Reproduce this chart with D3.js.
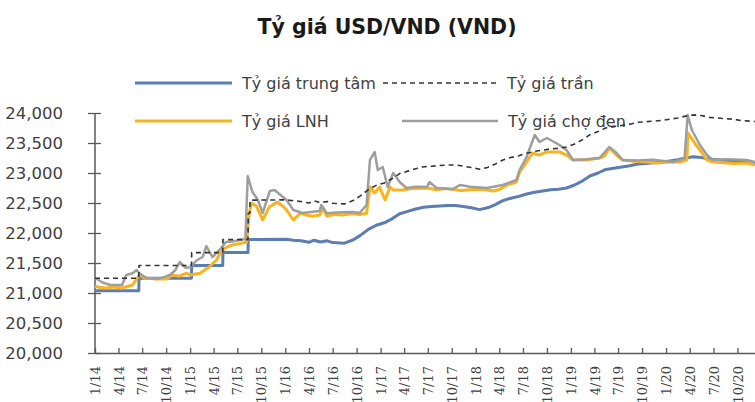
<!DOCTYPE html>
<html>
<head>
<meta charset="utf-8">
<script src="https://cdn.jsdelivr.net/npm/d3@7"></script>
<style>
    html, body { margin: 0; padding: 0; background: #fff; }
    svg { display: block; }
</style>
</head>
<body>
<svg id="chart" width="755" height="402"></svg>
<script>
// Central rate (steps until 8/2015, daily fixing from 2016)
var centralDates = ["2014-01-01", "2014-06-18", "2014-06-19", "2015-01-06", "2015-01-07", "2015-05-06", "2015-05-07", "2015-08-11", "2015-08-12",
    "2016-01-04", "2016-02-01", "2016-03-01", "2016-04-01", "2016-04-20", "2016-05-15", "2016-06-10", "2016-07-01", "2016-08-15", "2016-09-15", "2016-10-15", "2016-11-15", "2016-12-15",
    "2017-01-15", "2017-02-15", "2017-03-15", "2017-04-15", "2017-05-15", "2017-06-15", "2017-07-15", "2017-08-15", "2017-09-15", "2017-10-15", "2017-11-15", "2017-12-15",
    "2018-01-15", "2018-02-15", "2018-03-15", "2018-04-15", "2018-05-15", "2018-06-15", "2018-07-15", "2018-08-15", "2018-09-15", "2018-10-15", "2018-11-15", "2018-12-15",
    "2019-01-15", "2019-02-15", "2019-03-15", "2019-04-15", "2019-05-15", "2019-06-15", "2019-07-15", "2019-08-15", "2019-09-15", "2019-10-15", "2019-11-15", "2019-12-15",
    "2020-01-15", "2020-02-15", "2020-03-15", "2020-04-15", "2020-05-15", "2020-06-15", "2020-07-15", "2020-08-15", "2020-09-15", "2020-10-15", "2020-11-15", "2020-12-15"];
var centralValues = [21036, 21036, 21246, 21246, 21458, 21458, 21673, 21673, 21890,
    21896, 21880, 21870, 21845, 21880, 21850, 21870, 21840, 21830, 21880, 21960, 22060, 22130,
    22170, 22240, 22320, 22360, 22400, 22430, 22440, 22450, 22460, 22460, 22440, 22420,
    22390, 22420, 22470, 22540, 22580, 22610, 22650, 22680, 22700, 22720, 22730, 22750,
    22800, 22870, 22950, 23000, 23060, 23080, 23100, 23120, 23150, 23160, 23170, 23180,
    23200, 23220, 23250, 23270, 23260, 23230, 23220, 23210, 23200, 23180, 23170, 23160];

// Ceiling rate
var ceilingDates = ["2014-01-01", "2014-06-18", "2014-06-19", "2015-01-06", "2015-01-07", "2015-05-06", "2015-05-07", "2015-08-11", "2015-08-12", "2015-08-18", "2015-08-19",
    "2016-01-04", "2016-02-01", "2016-03-01", "2016-04-01", "2016-04-20", "2016-05-15", "2016-06-10", "2016-07-01", "2016-08-15", "2016-09-15", "2016-10-15", "2016-11-15", "2016-12-15",
    "2017-01-15", "2017-02-15", "2017-03-15", "2017-04-15", "2017-05-15", "2017-06-15", "2017-07-15", "2017-08-15", "2017-09-15", "2017-10-15", "2017-11-15", "2017-12-15",
    "2018-01-15", "2018-02-15", "2018-03-15", "2018-04-15", "2018-05-15", "2018-06-15", "2018-07-15", "2018-08-15", "2018-09-15", "2018-10-15", "2018-11-15", "2018-12-15",
    "2019-01-15", "2019-02-15", "2019-03-15", "2019-04-15", "2019-05-15", "2019-06-15", "2019-07-15", "2019-08-15", "2019-09-15", "2019-10-15", "2019-11-15", "2019-12-15",
    "2020-01-15", "2020-02-15", "2020-03-15", "2020-04-15", "2020-05-15", "2020-06-15", "2020-07-15", "2020-08-15", "2020-09-15", "2020-10-15", "2020-11-15", "2020-12-15"];
var ceilingValues = [21246, 21246, 21458, 21458, 21673, 21673, 21890, 21890, 22328, 22328, 22547,
    22553, 22536, 22526, 22500, 22536, 22506, 22526, 22495, 22485, 22536, 22619, 22722, 22794,
    22835, 22907, 22990, 23031, 23072, 23103, 23113, 23124, 23134, 23134, 23113, 23093,
    23062, 23093, 23144, 23216, 23257, 23288, 23330, 23360, 23381, 23402, 23412, 23433,
    23484, 23556, 23639, 23690, 23752, 23772, 23793, 23814, 23845, 23855, 23865, 23875,
    23896, 23917, 23948, 23968, 23958, 23927, 23917, 23906, 23896, 23875, 23865, 23855];

// Interbank rate (LNH)
var interbankDates = ["2014-01-01", "2014-01-20", "2014-02-15", "2014-03-10", "2014-04-15", "2014-05-25", "2014-06-20", "2014-07-10", "2014-08-25", "2014-10-03", "2014-10-25", "2014-11-20", "2014-12-18",
    "2015-01-01", "2015-02-08", "2015-03-15", "2015-04-12", "2015-05-01", "2015-05-20", "2015-06-12", "2015-07-20", "2015-08-06", "2015-08-15", "2015-08-24", "2015-09-12", "2015-10-06", "2015-11-01", "2015-12-01", "2015-12-22",
    "2016-01-06", "2016-02-01", "2016-02-27", "2016-03-22", "2016-04-15", "2016-05-12", "2016-05-25", "2016-06-08", "2016-07-10", "2016-08-08", "2016-09-10", "2016-10-12", "2016-11-08", "2016-11-21", "2016-12-09", "2016-12-28",
    "2017-01-18", "2017-02-06", "2017-02-18", "2017-03-25", "2017-05-01", "2017-06-28", "2017-08-04", "2017-09-05", "2017-10-04", "2017-11-05", "2017-12-10",
    "2018-01-10", "2018-02-12", "2018-03-10", "2018-04-04", "2018-05-01", "2018-06-06", "2018-06-18", "2018-07-15", "2018-08-07", "2018-09-01", "2018-10-01", "2018-11-18", "2018-12-15",
    "2019-01-09", "2019-03-01", "2019-04-21", "2019-05-10", "2019-05-28", "2019-06-25", "2019-07-18", "2019-08-20", "2019-10-18", "2019-11-27", "2019-12-25",
    "2020-02-24", "2020-03-21", "2020-03-25", "2020-04-20", "2020-05-10", "2020-06-06", "2020-06-28", "2020-08-10", "2020-09-20", "2020-11-06", "2020-12-06"];
var interbankValues = [21117, 21090, 21083, 21100, 21083, 21133, 21300, 21250, 21233, 21233, 21300, 21280, 21330,
    21300, 21330, 21433, 21550, 21700, 21760, 21800, 21833, 21850, 22300, 22500, 22450, 22217, 22433, 22517, 22450,
    22383, 22217, 22330, 22300, 22280, 22300, 22417, 22280, 22310, 22300, 22320, 22310, 22330, 22767, 22667, 22767,
    22550, 22767, 22717, 22717, 22740, 22750, 22720, 22740, 22730, 22710, 22720,
    22730, 22717, 22700, 22730, 22800, 22850, 23017, 23183, 23333, 23300, 23350, 23350, 23300,
    23217, 23217, 23250, 23280, 23417, 23300, 23217, 23200, 23183, 23167, 23180,
    23183, 23217, 23667, 23500, 23383, 23217, 23183, 23170, 23160, 23167, 23133];

// Black market rate
var blackDates = ["2014-01-01", "2014-02-01", "2014-03-01", "2014-04-15", "2014-05-01", "2014-05-25", "2014-06-10", "2014-06-20", "2014-07-18", "2014-08-25", "2014-09-20", "2014-10-15", "2014-11-05", "2014-11-22", "2014-12-15",
    "2015-01-01", "2015-01-28", "2015-02-18", "2015-03-04", "2015-03-28", "2015-04-24", "2015-05-18", "2015-06-15", "2015-07-09", "2015-08-01", "2015-08-10", "2015-08-28", "2015-09-18", "2015-10-06", "2015-11-03", "2015-11-21", "2015-12-09",
    "2016-01-06", "2016-02-01", "2016-03-07", "2016-04-10", "2016-05-12", "2016-05-18", "2016-06-08", "2016-07-15", "2016-09-15", "2016-10-12", "2016-11-08", "2016-11-21", "2016-12-09", "2016-12-21",
    "2017-01-09", "2017-01-28", "2017-02-18", "2017-03-15", "2017-04-10", "2017-05-15", "2017-06-28", "2017-07-07", "2017-08-04", "2017-10-04", "2017-11-01", "2017-12-10",
    "2018-02-12", "2018-04-15", "2018-06-06", "2018-06-18", "2018-07-15", "2018-08-15", "2018-09-03", "2018-10-01", "2018-11-18", "2018-12-15",
    "2019-01-09", "2019-03-01", "2019-04-21", "2019-05-28", "2019-06-25", "2019-07-18", "2019-09-15", "2019-11-10", "2020-01-28",
    "2020-02-24", "2020-03-12", "2020-03-24", "2020-04-09", "2020-05-10", "2020-06-06", "2020-06-28", "2020-08-20", "2020-11-06", "2020-12-06"];
var blackValues = [21250, 21170, 21133, 21133, 21300, 21330, 21383, 21330, 21250, 21233, 21260, 21300, 21380, 21517, 21420,
    21430, 21550, 21600, 21780, 21600, 21717, 21850, 21860, 21883, 21900, 22950, 22683, 22550, 22333, 22700, 22717, 22650,
    22550, 22383, 22333, 22350, 22367, 22467, 22330, 22340, 22350, 22333, 22467, 23217, 23350, 23050,
    23100, 22767, 23000, 22850, 22750, 22770, 22767, 22850, 22750, 22730, 22800, 22770,
    22750, 22800, 22883, 23050, 23267, 23633, 23517, 23583, 23467, 23383,
    23217, 23230, 23250, 23433, 23333, 23217, 23210, 23220, 23183,
    23217, 23250, 23967, 23717, 23467, 23300, 23217, 23230, 23217, 23183];

var yTicks = [20000, 20500, 21000, 21500, 22000, 22500, 23000, 23500, 24000];

var parseDate = d3.timeParse("%Y-%m-%d"),
    svg = d3.select("#chart"),
    // Plot edges
    plotLeft = 95,
    plotTop = 113,
    plotBottom = 353,
    // One quarter on the time axis is ~23.8px; the axis is cut by the window edge
    x = d3.scaleTime()
        .domain([parseDate("2014-01-01"), parseDate("2020-12-20")])
        .range([plotLeft, 758.3]),
    y = d3.scaleLinear()
        .domain([20000, 24000])
        .range([plotBottom, plotTop]),
    axisColor = "#595959",
    textColor = "#404040";

function zipSeries(dates, values) {
    return dates.map(function (d, i) {
        return { date: parseDate(d), value: values[i] };
    });
}

var line = d3.line()
    .x(function (d) { return x(d.date); })
    .y(function (d) { return y(d.value); });

// Title
svg.append("text")
    .attr("x", 387)
    .attr("y", 34)
    .attr("text-anchor", "middle")
    .style("font-family", "'DejaVu Sans', sans-serif")
    .style("font-weight", "bold")
    .style("font-size", "20.5px")
    .style("fill", "#1a1a1a")
    .text("Tỷ giá USD/VND (VND)");

// Y axis with ticks crossing the line
var yAxis = svg.append("g")
    .attr("transform", "translate(" + plotLeft + ",0)")
    .call(d3.axisLeft(y).tickValues(yTicks).tickSize(7).tickPadding(25).tickFormat(d3.format(",")));
yAxis.select(".domain").remove();
yAxis.selectAll(".tick line")
    .attr("x1", 6)
    .attr("stroke", axisColor)
    .attr("stroke-width", 1.3);
yAxis.selectAll(".tick text")
    .style("font-family", "'DejaVu Sans', sans-serif")
    .style("font-size", "16.5px")
    .style("fill", textColor);
svg.append("line")
    .attr("x1", plotLeft).attr("x2", plotLeft)
    .attr("y1", plotTop).attr("y2", plotBottom)
    .attr("stroke", axisColor)
    .attr("stroke-width", 1.5);

// X axis: quarterly ticks pointing up, labels rotated
var xAxis = svg.append("g")
    .attr("transform", "translate(0," + plotBottom + ")")
    .call(d3.axisBottom(x).ticks(d3.timeMonth.every(3)).tickSize(-5).tickSizeOuter(0).tickFormat(d3.timeFormat("%-m/%y")));
xAxis.select(".domain")
    .attr("stroke", axisColor)
    .attr("stroke-width", 1.5);
xAxis.selectAll(".tick line")
    .attr("stroke", axisColor)
    .attr("stroke-width", 1.3);
xAxis.selectAll(".tick text")
    .attr("transform", "rotate(-90)")
    .attr("x", -13)
    .attr("y", 0)
    .attr("dy", "0.36em")
    .attr("text-anchor", "end")
    .style("font-family", "'DejaVu Serif', serif")
    .style("font-size", "13px")
    .style("fill", textColor);

// Series
var series = [
    { key: "central", data: zipSeries(centralDates, centralValues), color: "#5b7db1", width: 3, dash: null },
    { key: "interbank", data: zipSeries(interbankDates, interbankValues), color: "#f8b320", width: 3, dash: null },
    { key: "black", data: zipSeries(blackDates, blackValues), color: "#9e9e9e", width: 2.5, dash: null },
    { key: "ceiling", data: zipSeries(ceilingDates, ceilingValues), color: "#333333", width: 1.6, dash: "5,4" }
];

svg.append("g")
    .selectAll("path")
    .data(series)
    .enter()
    .append("path")
    .attr("d", function (s) { return line(s.data); })
    .style("fill", "none")
    .style("stroke", function (s) { return s.color; })
    .style("stroke-width", function (s) { return s.width; })
    .style("stroke-dasharray", function (s) { return s.dash; })
    .style("stroke-linejoin", "round");

// Legend, two rows
var legendItems = [
    { label: "Tỷ giá trung tâm", color: "#5b7db1", width: 3, dash: null, x1: 135, x2: 232, ty: 83 },
    { label: "Tỷ giá trần", color: "#333333", width: 1.6, dash: "5,4", x1: 383, x2: 497, ty: 83 },
    { label: "Tỷ giá LNH", color: "#f8b320", width: 3, dash: null, x1: 135, x2: 232, ty: 121 },
    { label: "Tỷ giá chợ đen", color: "#9e9e9e", width: 2.5, dash: null, x1: 402, x2: 498, ty: 121 }
];

var legend = svg.append("g")
    .selectAll("g")
    .data(legendItems)
    .enter()
    .append("g");

legend.append("line")
    .attr("x1", function (d) { return d.x1; })
    .attr("x2", function (d) { return d.x2; })
    .attr("y1", function (d) { return d.ty; })
    .attr("y2", function (d) { return d.ty; })
    .style("stroke", function (d) { return d.color; })
    .style("stroke-width", function (d) { return d.width; })
    .style("stroke-dasharray", function (d) { return d.dash; });

legend.append("text")
    .attr("x", function (d) { return d.x2 + 10; })
    .attr("y", function (d) { return d.ty; })
    .attr("dy", "0.35em")
    .style("font-family", "'DejaVu Sans', sans-serif")
    .style("font-size", "16px")
    .style("fill", textColor)
    .text(function (d) { return d.label; });
</script>
</body>
</html>
